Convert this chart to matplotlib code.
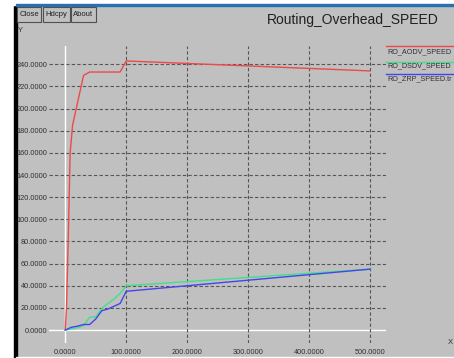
import matplotlib
matplotlib.use("Agg")
import matplotlib.pyplot as plt
from matplotlib.lines import Line2D
from matplotlib.patches import Rectangle

plt.rcParams['font.family'] = ['Liberation Sans Narrow', 'Liberation Sans', 'DejaVu Sans']

# values
aodv_x = [0, 2, 5, 8, 12, 20, 30, 40, 90, 100, 500]
aodv_y = [0, 20, 85, 160, 185, 205, 230, 233, 233, 243, 234]
dsdv_x = [0, 10, 20, 30, 40, 50, 60, 70, 80, 90, 100, 500]
dsdv_y = [0, 1, 2, 4, 11.5, 12, 19.5, 24, 28, 33, 40, 55]
zrp_x = [0, 10, 20, 30, 40, 50, 60, 70, 80, 90, 100, 500]
zrp_y = [0, 2.5, 3.5, 5, 5, 10, 17.5, 19, 21.5, 24, 35, 55]
names = ["RO_AODV_SPEED", "RO_DSDV_SPEED", "RO_ZRP_SPEED.tr"]
colors = ["#f04848", "#40e08a", "#4444ee"]
xticks = [0, 100, 200, 300, 400, 500]
yticks = list(range(0, 241, 20))

W, H = 454, 358
bg = "#c0c0c0"
fig = plt.figure(figsize=(W / 100, H / 100), dpi=100)
fig.patch.set_facecolor(bg)

# window decorations
fig.add_artist(Rectangle((0, 0), 14 / W, 1, transform=fig.transFigure, color="white", zorder=0))
fig.add_artist(Rectangle((14 / W, 0), 2.5 / W, 1, transform=fig.transFigure, color="black", zorder=0))
fig.add_artist(Rectangle((0, 1 - 4.5 / H), 1, 4.5 / H, transform=fig.transFigure, color="white", zorder=0))
fig.add_artist(Rectangle((16 / W, 1 - 6 / H), 1, 1.6 / H, transform=fig.transFigure, color="#2a6fb0", zorder=0))
fig.add_artist(Rectangle((16 / W, 0), 1, 1.5 / H, transform=fig.transFigure, color="white", zorder=0))

for label, x0, x1 in [("Close", 17, 41), ("Hdcpy", 43, 70), ("About", 71, 96)]:
    fig.add_artist(Rectangle((x0 / W, 1 - 22 / H), (x1 - x0) / W, 15 / H,
                             transform=fig.transFigure, facecolor=bg,
                             edgecolor="#505050", linewidth=0.8))
    fig.text((x0 + x1) / 2 / W, 1 - 14.5 / H, label, fontsize=5.5,
             ha="center", va="center", color="#202020")

fig.text(353 / W, 1 - 20 / H, "Routing_Overhead_SPEED", fontsize=10,
         family=['Liberation Sans', 'DejaVu Sans'], ha="center", va="center", color="#202020")
fig.text(18 / W, 1 - 31 / H, "Y", fontsize=5.5, ha="left", va="center", color="#303030")
fig.text(448 / W, 1 - 343 / H, "X", fontsize=5.5, ha="left", va="center", color="#303030")

ax = fig.add_axes([49 / W, 15 / H, 337 / W, 297 / H])
ax.set_facecolor(bg)
for s in ax.spines.values():
    s.set_visible(False)
ax.set_xlim(-26.7, 526.2)
ax.set_ylim(-11.7, 256.5)

for v in yticks:
    if v == 0:
        ax.axhline(v, color="white", lw=1, zorder=1)
    else:
        ax.axhline(v, color="#555555", lw=0.8, ls=(0, (3, 2)), zorder=1)
for v in xticks:
    if v == 0:
        ax.axvline(v, color="white", lw=1, zorder=1)
    else:
        ax.axvline(v, color="#555555", lw=0.8, ls=(0, (3, 2)), zorder=1)

ax.plot(aodv_x, aodv_y, color=colors[0], lw=1, zorder=3)
ax.plot(dsdv_x, dsdv_y, color=colors[1], lw=1, zorder=3)
ax.plot(zrp_x, zrp_y, color=colors[2], lw=1, zorder=3)

ax.set_xticks(xticks)
ax.set_xticklabels(["%.4f" % v for v in xticks])
ax.set_yticks(yticks)
ax.set_yticklabels(["%.4f" % v for v in yticks])
ax.tick_params(length=0, labelsize=5.3, colors="#303030", pad=1)
ax.tick_params(axis="x", pad=4)

# legend at right
leg_rows = [(46, 52), (62, 66), (74, 79)]
for (ly, ty), name, c in zip(leg_rows, names, colors):
    fig.add_artist(Line2D([386 / W, 1], [1 - ly / H, 1 - ly / H], transform=fig.transFigure,
                          color=c, lw=1))
    fig.text(387 / W, 1 - ty / H, name, fontsize=5.2, ha="left", va="center", color="#303030")

fig.savefig("out.png", dpi=100, facecolor=fig.get_facecolor())
